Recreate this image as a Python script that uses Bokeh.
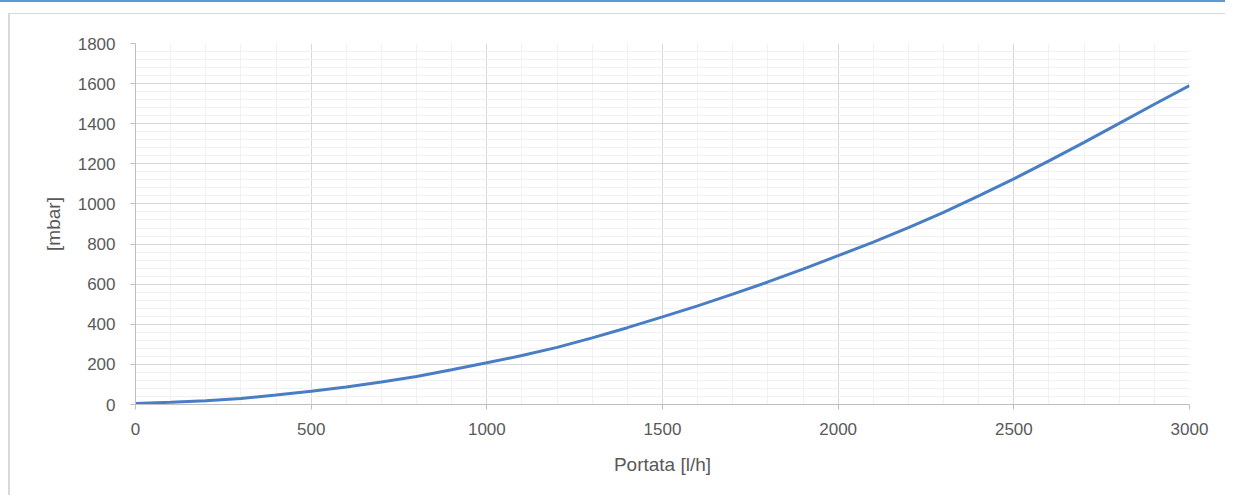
from bokeh.plotting import figure
from bokeh.models import SingleIntervalTicker, Range1d
from bokeh.embed import file_html
from bokeh.resources import INLINE

# Data
flow_lh = [0, 100, 200, 300, 400, 500, 600, 700, 800, 900, 1000,
           1100, 1200, 1300, 1400, 1500, 1600, 1700, 1800, 1900, 2000,
           2100, 2200, 2300, 2400, 2500, 2600, 2700, 2800, 2900, 3000]
pressure_mbar = [5, 11, 19, 30, 47, 66, 87, 112, 140, 173, 208,
                 244, 285, 332, 383, 437, 492, 550, 611, 675, 742,
                 810, 882, 958, 1040, 1125, 1215, 1307, 1402, 1497, 1590]

x_title = "Portata [l/h]"
y_title = "[mbar]"

FONT = "Liberation Sans"
TXT = "#595959"

# container decoration (blue rule on top, light grey chart-area border)
container_bg = (
    "linear-gradient(#5B9BD5, #5B9BD5) 0 0 / 100% 2px no-repeat, "
    "linear-gradient(#D9D9D9, #D9D9D9) 8px 13px / 100% 1px no-repeat, "
    "linear-gradient(#D9D9D9, #D9D9D9) 8px 13px / 2px 100% no-repeat, "
    "white"
)

p = figure(width=1225, height=495, output_backend="svg", toolbar_location=None,
           x_range=Range1d(0, 3000), y_range=Range1d(0, 1800),
           min_border_left=135, min_border_right=36, min_border_top=43, min_border_bottom=91,
           styles={"background": container_bg})
p.outline_line_color = None
p.background_fill_color = "white"
p.border_fill_color = None

p.line(flow_lh, pressure_mbar, line_color="#4A7EC4", line_width=3)

p.xaxis.ticker = SingleIntervalTicker(interval=500, num_minor_ticks=5)
p.yaxis.ticker = SingleIntervalTicker(interval=200, num_minor_ticks=5)

for ax in (p.xaxis, p.yaxis):
    ax.axis_line_color = "#BFBFBF"
    ax.axis_line_width = 1
    ax.major_tick_line_color = "#BFBFBF"
    ax.major_tick_in = 0
    ax.major_tick_out = 5
    ax.minor_tick_line_color = None
    ax.major_label_text_font = FONT
    ax.major_label_text_font_size = "17px"
    ax.major_label_text_color = TXT
    ax.axis_label_text_font = FONT
    ax.axis_label_text_font_size = "19px"
    ax.axis_label_text_color = TXT
    ax.axis_label_text_font_style = "normal"

p.xaxis.axis_label = x_title
p.yaxis.axis_label = y_title
p.xaxis.major_label_standoff = 13
p.xaxis.axis_label_standoff = 16
p.yaxis.major_label_standoff = 15
p.yaxis.axis_label_standoff = 11

for g in (p.xgrid, p.ygrid):
    g.grid_line_color = "#D9D9D9"
    g.grid_line_width = 1
    g.minor_grid_line_color = "#F2F2F2"
    g.minor_grid_line_width = 1

open("out.html", "w").write(file_html(p, INLINE))
